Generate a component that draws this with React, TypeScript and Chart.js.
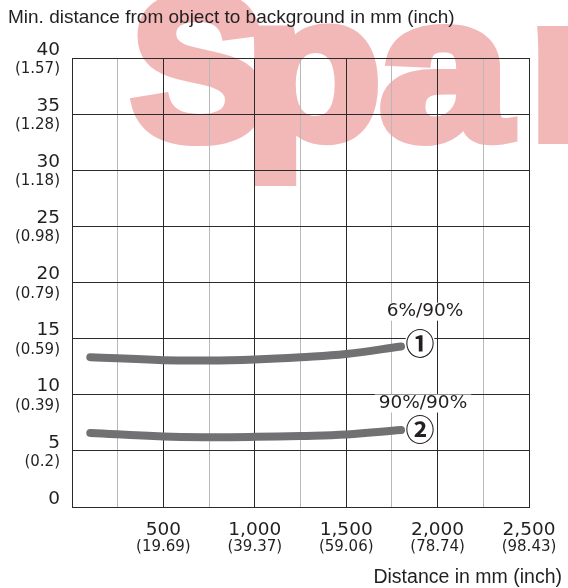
import React, { useEffect, useRef } from "react";
import { Chart, registerables } from "chart.js";

Chart.register(...registerables);

// ---- data ----
const distanceMm = [100, 500, 750, 1000, 1250, 1500, 1800];
const curve1Mm = [13.35, 13.08, 13.05, 13.15, 13.35, 13.63, 14.3]; // 6%/90%
const curve2Mm = [6.6, 6.28, 6.22, 6.25, 6.33, 6.46, 6.85]; // 90%/90%
const seriesNames = ["6%/90%", "90%/90%"];
const seriesMarks = ["①", "②"];

const xTickValues = [500, 1000, 1500, 2000, 2500];
const xTickMmLabels = ["500", "1,000", "1,500", "2,000", "2,500"];
const xTickInchLabels = ["(19.69)", "(39.37)", "(59.06)", "(78.74)", "(98.43)"];

const yTickValues = [0, 5, 10, 15, 20, 25, 30, 35, 40];
const yTickMmLabels = ["0", "5", "10", "15", "20", "25", "30", "35", "40"];
const yTickInchLabels = ["", "(0.2)", "(0.39)", "(0.59)", "(0.79)", "(0.98)", "(1.18)", "(1.28)", "(1.57)"];

const titleText = "Min. distance from object to background in mm (inch)";
const xAxisTitle = "Distance in mm (inch)";
const watermarkLetters = ["S", "p", "a", "r"];

const FONT = '"Liberation Sans", Arial, sans-serif';
const NUMFONT = '"DejaVu Sans", sans-serif';
const TEXT = "#231f20";
const DARK = "#2a2a2a";
const LIGHT = "#b8b8b8";
const CURVE = "#717174";

const labelPlugin = {
  id: "customLabels",
  afterDatasetsDraw(chart: any) {
    const { ctx, scales } = chart;
    const xs = scales.x;
    const ys = scales.y;
    ctx.save();
    ctx.fillStyle = TEXT;

    // title
    ctx.font = `19px ${FONT}`;
    ctx.textAlign = "left";
    ctx.textBaseline = "alphabetic";
    ctx.fillText(titleText, 8, 22.5);

    // y tick labels
    ctx.textAlign = "right";
    yTickValues.forEach((v, i) => {
      const py = ys.getPixelForValue(v);
      ctx.font = `18.5px ${NUMFONT}`;
      ctx.fillText(yTickMmLabels[i], 60, py - 3.3);
      if (yTickInchLabels[i]) {
        ctx.font = `15px ${NUMFONT}`;
        ctx.fillText(yTickInchLabels[i], 60, py + 15);
      }
    });

    // x tick labels
    ctx.textAlign = "center";
    xTickValues.forEach((v, i) => {
      const px = xs.getPixelForValue(v);
      ctx.font = `18.5px ${NUMFONT}`;
      ctx.fillText(xTickMmLabels[i], px, 535);
      ctx.font = `15px ${NUMFONT}`;
      ctx.fillText(xTickInchLabels[i], px, 551);
    });

    // x axis title
    ctx.font = `19.5px ${FONT}`;
    ctx.textAlign = "right";
    ctx.fillText(xAxisTitle, 562, 582.5);

    // curve annotations
    const anchors = [
      { name: { x: 1931, y: 17.4 }, mark: { x: 1904, y: 14.63 } },
      { name: { x: 1920, y: 9.22 }, mark: { x: 1904, y: 6.99 } },
    ];
    anchors.forEach((a, i) => {
      const nx = xs.getPixelForValue(a.name.x);
      const ny = ys.getPixelForValue(a.name.y);
      ctx.font = `18.5px ${NUMFONT}`;
      const w = ctx.measureText(seriesNames[i]).width;
      ctx.fillStyle = "#ffffff";
      ctx.fillRect(nx - w / 2 - 4, ny - 9, w + 8, 18);
      ctx.fillStyle = TEXT;
      ctx.textAlign = "center";
      ctx.textBaseline = "middle";
      ctx.fillText(seriesNames[i], nx, ny);

      const mx = xs.getPixelForValue(a.mark.x);
      const my = ys.getPixelForValue(a.mark.y);
      ctx.fillStyle = "#ffffff";
      ctx.beginPath();
      ctx.arc(mx, my, 15, 0, Math.PI * 2);
      ctx.fill();
      ctx.fillStyle = TEXT;
      ctx.font = `bold 29px "Noto Sans CJK JP", "DejaVu Sans", sans-serif`;
      ctx.fillText(seriesMarks[i], mx, my + 1);
    });
    ctx.restore();
  },
};

export default function App() {
  const canvasRef = useRef<HTMLCanvasElement | null>(null);

  useEffect(() => {
    const canvas = canvasRef.current;
    if (!canvas) return;
    const chart = new Chart(canvas, {
      type: "line",
      data: {
        datasets: [
          {
            label: seriesNames[0],
            data: distanceMm.map((x, i) => ({ x, y: curve1Mm[i] })),
          },
          {
            label: seriesNames[1],
            data: distanceMm.map((x, i) => ({ x, y: curve2Mm[i] })),
          },
        ].map((d) => ({
          ...d,
          borderColor: CURVE,
          borderWidth: 8,
          borderCapStyle: "round" as const,
          borderJoinStyle: "round" as const,
          pointRadius: 0,
          tension: 0.4,
          fill: false,
        })),
      },
      options: {
        responsive: false,
        animation: false,
        devicePixelRatio: 1,
        layout: { padding: { left: 72, right: 39, top: 58, bottom: 81 } },
        plugins: { legend: { display: false }, tooltip: { enabled: false }, title: { display: false } },
        events: [],
        scales: {
          x: {
            type: "linear",
            min: 0,
            max: 2500,
            ticks: { display: false, stepSize: 250 },
            grid: {
              drawTicks: false,
              lineWidth: 1,
              color: (c: any) => (c.tick && c.tick.value % 500 === 0 ? DARK : LIGHT),
            },
            border: { display: true, color: DARK, width: 1 },
          },
          y: {
            type: "linear",
            min: 0,
            max: 40,
            ticks: { display: false, stepSize: 5 },
            grid: { drawTicks: false, lineWidth: 1, color: DARK },
            border: { display: true, color: DARK, width: 1 },
          },
        },
      },
      plugins: [labelPlugin],
    });
    return () => chart.destroy();
  }, []);

  const wmPos = [130, 244, 379, 529];
  const wmScale = [1, 1.1, 1.15, 1];
  return (
    <div
      style={{
        position: "fixed",
        left: 0,
        top: 0,
        width: 568,
        height: 588,
        background: "#ffffff",
        overflow: "hidden",
      }}
    >
      {watermarkLetters.map((l, i) => (
        <span
          key={i}
          style={{
            position: "absolute",
            left: wmPos[i],
            top: -35,
            fontFamily: FONT,
            fontWeight: 700,
            fontSize: 205,
            lineHeight: 1,
            color: "#f2b8b8",
            WebkitTextStroke: "10px #f2b8b8",
            whiteSpace: "nowrap",
            transform: `scaleX(${wmScale[i]})`,
            transformOrigin: "left top",
          }}
        >
          {l}
        </span>
      ))}
      <canvas
        ref={canvasRef}
        width={568}
        height={588}
        style={{ position: "absolute", left: 0, top: 0, width: 568, height: 588 }}
      />
    </div>
  );
}
